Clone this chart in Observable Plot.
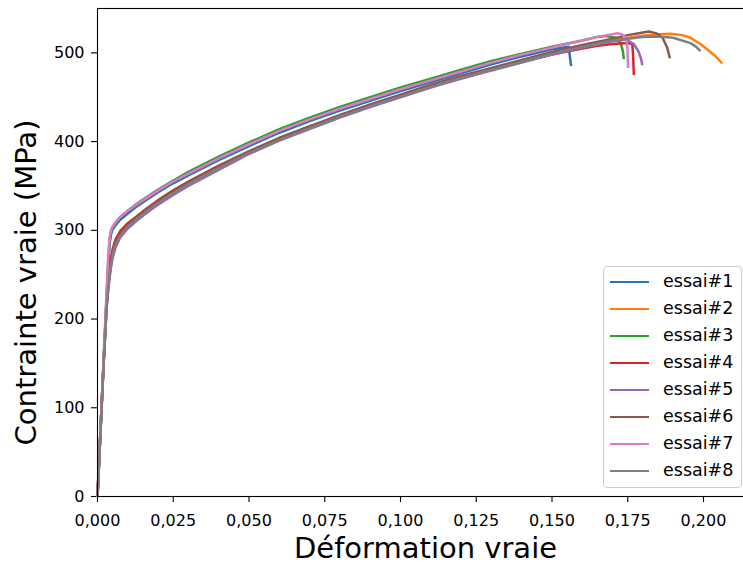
<!DOCTYPE html>
<html>
<head>
<meta charset="utf-8">
<script src="https://cdn.jsdelivr.net/npm/d3@7"></script>
<script src="https://cdn.jsdelivr.net/npm/@observablehq/plot@0.6"></script>
<style>
  html, body { margin: 0; padding: 0; background: #fff; overflow: hidden; }
  #wrap { position: relative; width: 743px; height: 565px; overflow: hidden; font-family: "DejaVu Sans", sans-serif; }
  #wrap svg { max-width: none !important; display: block; }
  #legend { position: absolute; left: 603px; top: 266px; width: 139px; height: 222px; box-sizing: border-box;
            border: 1px solid #cccccc; border-radius: 4px; background: rgba(255,255,255,0.8); }
  .row { position: absolute; left: 0; height: 27px; width: 137px; }
  .sw { position: absolute; left: 6px; width: 39px; height: 0; border-top: 2.5px solid; top: 12.5px; }
  .lb { position: absolute; left: 59px; top: 0; line-height: 27px; font-size: 17.5px; color: #000; white-space: nowrap; }
</style>
</head>
<body>
<div id="wrap"></div>
<script>
// ---- data ----
const seriesNames = ["essai#1", "essai#2", "essai#3", "essai#4", "essai#5", "essai#6", "essai#7", "essai#8"];
const seriesColors = ["#1f77b4", "#ff7f0e", "#2ca02c", "#d62728", "#9467bd", "#8c564b", "#e377c2", "#7f7f7f"];

const gridStrain = [0, .001, .002, .003, .0035, .004, .0045, .005, .006, .0075, .01, .013, .016, .02, .025, .03, .04, .05, .06, .07, .08, .09, .1, .11, .12, .13, .14, .15];

// essai#1
const strain1 = [...gridStrain, .1555, .1563];
const stress1 = [0, 75, 150, 225, 258, 285, 296, 301, 306, 312, 319, 327, 334, 343, 353, 362, 379, 395, 410, 423, 435, 446, 457, 467, 477, 487, 496, 504, 507, 485];
// essai#2
const strain2 = [...gridStrain, .16, .17, .179, .185, .189, .193, .1957, .199, .2012, .204, .2062];
const stress2 = [0, 75, 150, 215, 235, 252, 264, 273, 285, 295, 305, 314, 322, 332, 343, 353, 371, 388, 403, 416, 429, 441, 452, 463, 473, 482, 491, 500, 508, 514, 519, 521, 521.6, 520, 517, 510, 504, 496, 488];
// essai#3
const strain3 = [...gridStrain, .16, .165, .168, .171, .1727, .1734, .1737];
const stress3 = [0, 75, 150, 225, 262, 290, 300, 304, 309, 315, 322, 330, 337, 346, 356, 366, 383, 399, 414, 427, 439, 450, 461, 471, 481, 491, 499, 507, 514, 518, 519, 517, 511, 502, 493];
// essai#4
const strain4 = [...gridStrain, .16, .165, .17, .175, .1765, .1768, .177];
const stress4 = [0, 75, 150, 218, 240, 258, 270, 279, 290, 299, 308, 316, 324, 334, 345, 355, 373, 389, 404, 417, 429, 440, 451, 462, 471, 481, 490, 498, 505, 508, 510, 511, 510, 495, 475];
// essai#5
const strain5 = [...gridStrain, .16, .17, .1745, .177, .1785, .1795, .1798];
const stress5 = [0, 74, 148, 212, 231, 247, 259, 269, 281, 292, 302, 311, 319, 329, 340, 350, 368, 386, 401, 414, 427, 439, 450, 461, 471, 480, 489, 498, 506, 513, 515, 510, 502, 492, 486];
// essai#6
const strain6 = [...gridStrain, .16, .17, .175, .18, .182, .1845, .1865, .188, .1889];
const stress6 = [0, 75, 150, 215, 236, 253, 266, 275, 286, 296, 306, 315, 323, 333, 344, 354, 372, 389, 404, 417, 430, 442, 453, 464, 474, 483, 492, 501, 509, 516, 520, 523, 524, 522, 517, 506, 494];
// essai#7
const strain7 = [...gridStrain, .16, .165, .17, .1715, .173, .1745, .1749, .1751];
const stress7 = [0, 78, 155, 232, 268, 292, 300, 304, 309, 315, 322, 329, 336, 345, 355, 364, 381, 397, 412, 425, 437, 448, 459, 469, 479, 489, 498, 506, 514, 518, 521, 522, 521, 517, 505, 483];
// essai#8
const strain8 = [...gridStrain, .16, .17, .18, .185, .19, .1957, .1975, .199];
const stress8 = [0, 74, 148, 213, 233, 250, 262, 272, 284, 294, 304, 313, 321, 331, 342, 352, 370, 387, 402, 415, 428, 440, 451, 462, 472, 481, 490, 499, 507, 514, 518, 518.5, 517, 511, 507, 502];

const xTicks = [0, 0.025, 0.05, 0.075, 0.1, 0.125, 0.15, 0.175, 0.2];
const yTicks = [0, 100, 200, 300, 400, 500];
const xLabel = "Déformation vraie";
const yLabel = "Contrainte vraie (MPa)";

const strains = [strain1, strain2, strain3, strain4, strain5, strain6, strain7, strain8];
const stresses = [stress1, stress2, stress3, stress4, stress5, stress6, stress7, stress8];
const rows = [];
seriesNames.forEach((name, i) => {
  strains[i].forEach((e, j) => rows.push({series: name, strain: e, stress: stresses[i][j]}));
});

const chart = Plot.plot({
  width: 753,
  height: 565,
  marginLeft: 97,
  marginRight: 0,
  marginTop: 8,
  marginBottom: 69,
  style: {fontFamily: "DejaVu Sans", fontSize: "16px", color: "#000", background: "#fff", maxWidth: "none"},
  x: {domain: [0, 0.2165]},
  y: {domain: [0, 550]},
  color: {domain: seriesNames, range: seriesColors},
  marks: [
    Plot.axisY({ticks: yTicks, tickSize: 6, tickPadding: 7, tickFormat: d => String(d), label: null, fontSize: 16, strokeWidth: 1.1}),
    Plot.axisX({ticks: xTicks, tickSize: 6, tickPadding: 12, tickFormat: d => d.toFixed(3).replace(".", ","), label: null, fontSize: 16, strokeWidth: 1.1}),
    Plot.line(rows, {x: "strain", y: "stress", z: "series", stroke: "series", strokeWidth: 2.5, strokeLinejoin: "round", strokeLinecap: "butt"}),
    Plot.frame({stroke: "#000", strokeWidth: 1.1}),
    Plot.text([xLabel], {frameAnchor: "bottom", textAnchor: "middle", lineAnchor: "middle", dy: 52, fontSize: 29, fill: "#000"}),
    Plot.text([yLabel], {frameAnchor: "left", textAnchor: "middle", lineAnchor: "middle", rotate: -90, dx: -71, dy: 30, fontSize: 29, fill: "#000"})
  ]
});

const wrap = document.getElementById("wrap");
wrap.appendChild(chart);

const legend = d3.select(wrap).append("div").attr("id", "legend");
seriesNames.forEach((name, i) => {
  const r = legend.append("div").attr("class", "row").style("top", (1 + 27 * i) + "px");
  r.append("div").attr("class", "sw").style("border-top-color", seriesColors[i]);
  r.append("div").attr("class", "lb").text(name);
});
</script>
</body>
</html>
